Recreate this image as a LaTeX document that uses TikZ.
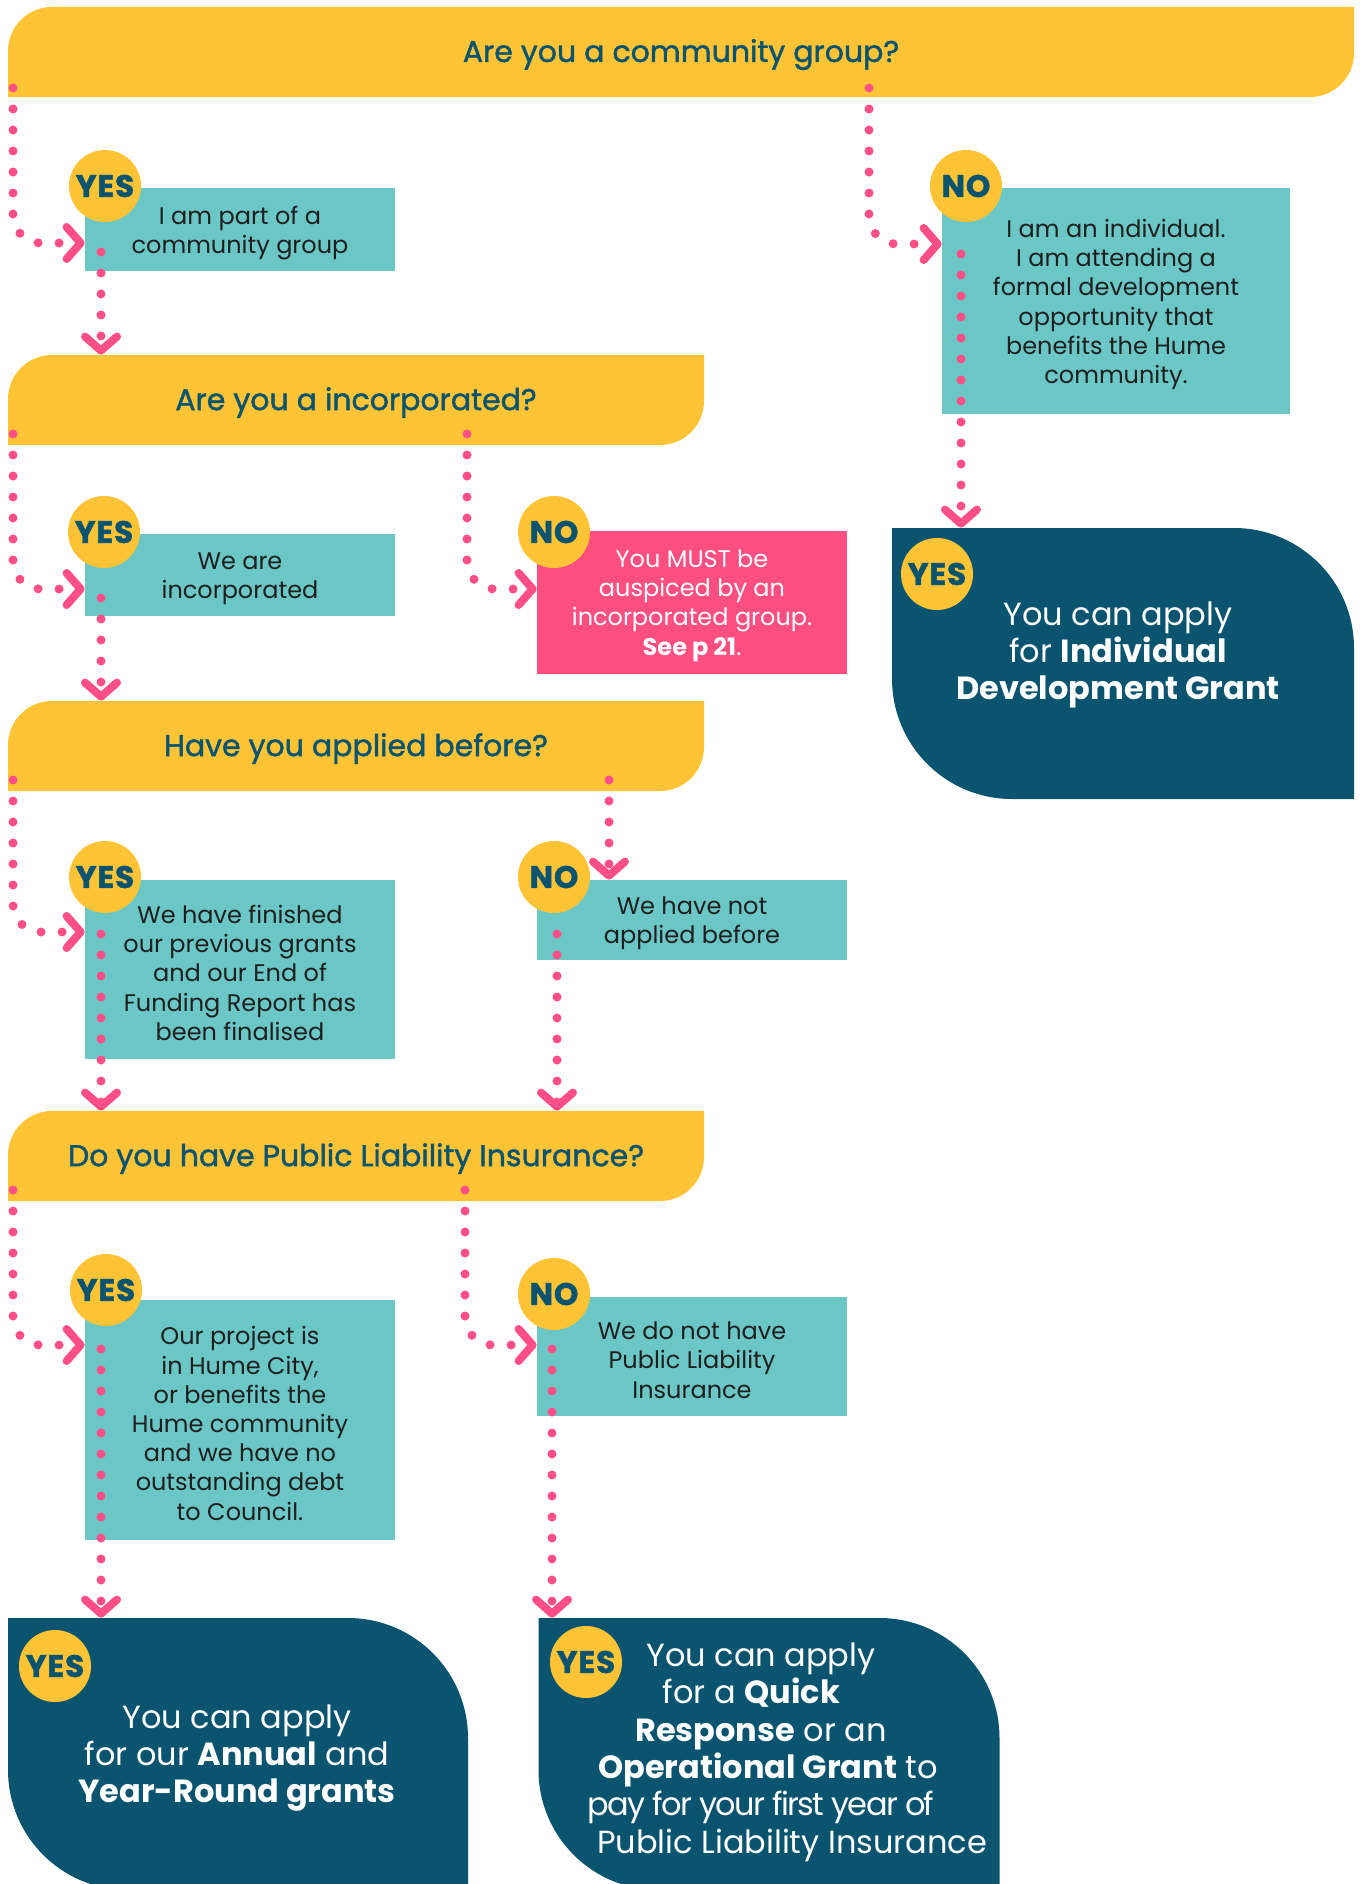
\documentclass[tikz,border=0pt]{standalone}
\usepackage{fontspec}
\setmainfont{Poppins}
\newfontfamily\semib{Poppins}[FakeBold=1.5]
\newfontfamily\heavy{Poppins}[FakeBold=1.5, LetterSpace=3]
\usetikzlibrary{arrows.meta,calc}
\definecolor{hyellow}{HTML}{FEC435}
\definecolor{hteal}{HTML}{6BC6C6}
\definecolor{hpink}{HTML}{FF4E80}
\definecolor{hdark}{HTML}{0B546F}
\definecolor{hdot}{HTML}{FF4F86}
\definecolor{htext}{HTML}{1F1F1F}
\newcommand\firststrut{\rule{0pt}{12.5pt}}
% leaf with top-left and bottom-right rounded
\newcommand\leafTL[2]{\fill[#1] (path picture bounding box.south west) -- ([yshift=-#2]path picture bounding box.north west) .. controls ([yshift=-0.448*#2]path picture bounding box.north west) and ([xshift=0.448*#2]path picture bounding box.north west) .. ([xshift=#2]path picture bounding box.north west) -- (path picture bounding box.north east) -- ([yshift=#2]path picture bounding box.south east) .. controls ([yshift=0.448*#2]path picture bounding box.south east) and ([xshift=-0.448*#2]path picture bounding box.south east) .. ([xshift=-#2]path picture bounding box.south east) -- cycle;}
% leaf with top-right and bottom-left rounded
\newcommand\leafTR[2]{\fill[#1] (path picture bounding box.north west) -- ([xshift=-#2]path picture bounding box.north east) .. controls ([xshift=-0.448*#2]path picture bounding box.north east) and ([yshift=-0.448*#2]path picture bounding box.north east) .. ([yshift=-#2]path picture bounding box.north east) -- (path picture bounding box.south east) -- ([xshift=#2]path picture bounding box.south west) .. controls ([xshift=0.448*#2]path picture bounding box.south west) and ([yshift=0.448*#2]path picture bounding box.south west) .. ([yshift=#2]path picture bounding box.south west) -- cycle;}
\tikzset{
  banner/.style={minimum height=45pt, inner sep=0pt, fill=white, text=hdark,
    font=\semib\fontsize{15}{18}\selectfont, path picture={\leafTL{hyellow}{22pt}},
    execute at begin node={\rule{0pt}{14pt}}},
  darkbox/.style={inner sep=0pt, fill=white, path picture={\leafTR{hdark}{60pt}}},
  darktext/.style={align=center, text=white, inner sep=0pt, font=\fontsize{16}{18.7}\selectfont},
  infobox/.style={fill=hteal, inner sep=0pt, align=center, text=htext,
    font=\fontsize{12}{14.6}\selectfont},
  warnbox/.style={infobox, fill=hpink, text=white},
  yesno/.style={circle, fill=hyellow, minimum size=36pt, inner sep=0pt, text=hdark,
    font=\heavy\bfseries\fontsize{15.5}{15.5}\selectfont},
  conn/.style={draw=hdot, line width=4.5pt, line cap=round, dash pattern=on 0pt off 10.5pt,
    rounded corners=14pt, -{Straight Barb[length=7pt, width=16pt, line width=4pt, round]}}
}
\begin{document}
\begin{tikzpicture}[x=0.5pt, y=-0.5pt]
\useasboundingbox (0,0) rectangle (1362,1884);
\fill[white] (0,0) rectangle (1362,1884);
\clip (0,0) rectangle (1362,1884);

% banners
\node[banner, minimum width=673pt] (B1) at (681,52) {Are you a community group?};
\node[banner, minimum width=348pt] (B2) at (356,400) {Are you a incorporated?};
\node[banner, minimum width=348pt] (B3) at (356,746) {Have you applied before?};
\node[banner, minimum width=348pt] (B4) at (356,1156) {Do you have Public Liability Insurance?};

% info boxes
\node[infobox, minimum width=155pt, minimum height=41.5pt] (T1) at (240,229.5) {\firststrut I am part of a\\community group};
\node[infobox, minimum width=174pt, minimum height=113pt] (N1) at (1116,301) {\firststrut I am an individual.\\I am attending a\\formal development\\opportunity that\\benefits the Hume\\community.};
\node[infobox, minimum width=155pt, minimum height=41pt] (T2) at (240,575) {\firststrut We are\\incorporated};
\node[warnbox, minimum width=155pt, minimum height=71.5pt] (P2) at (692,602) {\firststrut You MUST be\\auspiced by an\\incorporated group.\\\textbf{See p 21}.};
\node[infobox, minimum width=155pt, minimum height=89.5pt] (T3) at (240,969.5) {\firststrut We have finished\\our previous grants\\and our End of\\Funding Report has\\been finalised};
\node[infobox, minimum width=155pt, minimum height=40pt] (N3) at (692,920) {\firststrut We have not\\applied before};
\node[infobox, minimum width=155pt, minimum height=120pt] (T4) at (240,1420) {\firststrut Our project is\\in Hume City,\\or benefits the\\Hume community\\and we have no\\outstanding debt\\to Council.};
\node[infobox, minimum width=155pt, minimum height=59.5pt] (N4) at (692,1356.5) {\firststrut We do not have\\Public Liability\\Insurance};

% outcome boxes
\node[darkbox, minimum width=231pt, minimum height=135.5pt] (IDG) at (1123,663.5) {};
\node[darkbox, minimum width=230pt, minimum height=136pt] (BL) at (238,1754) {};
\node[darkbox, minimum width=230.5pt, minimum height=136pt] (BR) at (769,1754) {};
\node[darktext] (IDGt) at (1118,655) {You can apply\\for \textbf{Individual}\\\textbf{Development Grant}};
\node[darktext] (BLt) at (237,1758) {You can apply\\for our \textbf{Annual} and\\\textbf{Year-Round grants}};
\node[darktext] (BRt) at (761,1752) {You can apply\\\hspace*{-9.6pt}for a \textbf{Quick}\\\textbf{Response} or an\\\hspace*{7pt}\textbf{Operational Grant} to\\{\addfontfeature{LetterSpace=-5}pay for your first year of}\\\hspace*{31pt}Public Liability Insurance};

% yes / no badges
\node[yesno] (Y1) at (105,186) {YES};
\node[yesno] (Y1n) at (966,186) {NO};
\node[yesno] (Y2) at (104,532) {YES};
\node[yesno] (Y2n) at (554,532) {NO};
\node[yesno] (Y3) at (105,877) {YES};
\node[yesno] (Y3n) at (554,877) {NO};
\node[yesno] (Y4) at (106,1290) {YES};
\node[yesno] (Y4n) at (554,1294) {NO};
\node[yesno] (YI) at (937,574) {YES};
\node[yesno] (YL) at (55,1666) {YES};
\node[yesno] (YR) at (586,1662) {YES};

% connector start points
\coordinate (s1) at (13,88);
\coordinate (s2) at (869,88);
\coordinate (s3) at (101,252);
\coordinate (s4) at (961,254);
\coordinate (s5) at (13,434);
\coordinate (s6) at (467,434);
\coordinate (s7) at (101,598);
\coordinate (s8) at (13,780);
\coordinate (s9) at (609,780);
\coordinate (s10) at (101,934);
\coordinate (s11) at (557,934);
\coordinate (s12) at (13,1190);
\coordinate (s13) at (465,1190);
\coordinate (s14) at (101,1349);
\coordinate (s15) at (552,1349);

% connectors
\draw[conn] (s1) |- (T1.west |- 0,243);
\draw[conn] (s2) |- (N1.west |- 0,244);
\draw[conn] (s3) -- (s3 |- B2.north);
\draw[conn] (s4) -- (s4 |- IDG.north);
\draw[conn] (s5) |- (T2.west |- 0,589);
\draw[conn] (s6) |- (P2.west |- 0,589);
\draw[conn] (s7) -- (s7 |- B3.north);
\draw[conn] (s8) |- (T3.west |- 0,932);
\draw[conn] (s9) -- (s9 |- N3.north);
\draw[conn] (s10) -- (s10 |- B4.north);
\draw[conn] (s11) -- (s11 |- B4.north);
\draw[conn] (s12) |- (T4.west |- 0,1345);
\draw[conn] (s13) |- (N4.west |- 0,1345);
\draw[conn] (s14) -- (s14 |- BL.north);
\draw[conn] (s15) -- (s15 |- BR.north);
\end{tikzpicture}
\end{document}
